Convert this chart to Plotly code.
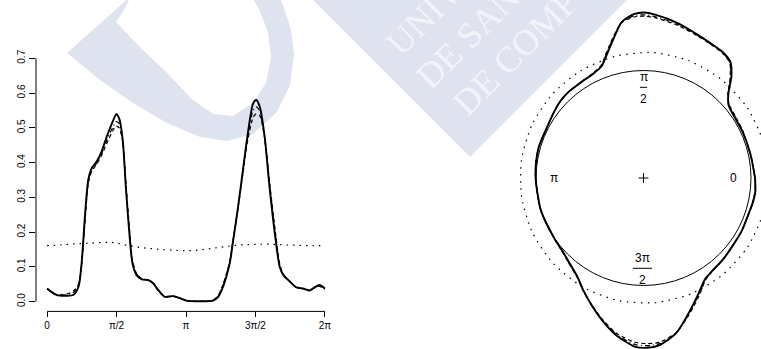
import math
import plotly.graph_objects as go

# ---------------- data ----------------
theta = [0, 0.22, 0.44, 0.59, 0.71, 0.78, 0.86, 0.93, 1.01, 1.12, 1.23, 1.35, 1.50, 1.565, 1.63,
         1.71, 1.78, 1.86, 1.93, 2.02, 2.14, 2.29, 2.40, 2.51, 2.66, 2.85, 3.00, 3.15, 3.45, 3.75,
         3.87, 3.98, 4.13, 4.21, 4.32, 4.43, 4.54, 4.66, 4.73, 4.81, 4.92, 5.03, 5.15, 5.26, 5.34,
         5.49, 5.64, 5.79, 5.94, 6.05, 6.16, 6.2832]
solid = [0.038, 0.019, 0.017, 0.019, 0.043, 0.110, 0.254, 0.350, 0.384, 0.403, 0.431, 0.475, 0.523, 0.539, 0.527,
         0.465, 0.331, 0.197, 0.110, 0.077, 0.064, 0.062, 0.053, 0.034, 0.014, 0.016, 0.010, 0.003, 0.001, 0.003,
         0.014, 0.043, 0.110, 0.177, 0.273, 0.379, 0.484, 0.570, 0.580, 0.561, 0.475, 0.331, 0.197, 0.101, 0.077,
         0.058, 0.041, 0.038, 0.032, 0.041, 0.048, 0.038]
dashed = [0.036, 0.020, 0.022, 0.030, 0.050, 0.105, 0.235, 0.340, 0.375, 0.395, 0.420, 0.455, 0.495, 0.505, 0.500,
          0.460, 0.345, 0.215, 0.120, 0.082, 0.066, 0.062, 0.052, 0.032, 0.015, 0.016, 0.010, 0.003, 0.001, 0.004,
          0.018, 0.050, 0.115, 0.180, 0.270, 0.370, 0.465, 0.530, 0.540, 0.535, 0.470, 0.345, 0.215, 0.110, 0.080,
          0.058, 0.041, 0.037, 0.034, 0.040, 0.044, 0.036]
dotdash = [0.037, 0.018, 0.020, 0.026, 0.047, 0.108, 0.245, 0.345, 0.380, 0.398, 0.425, 0.465, 0.505, 0.518, 0.512,
           0.462, 0.338, 0.205, 0.115, 0.080, 0.065, 0.062, 0.052, 0.033, 0.014, 0.016, 0.010, 0.003, 0.001, 0.003,
           0.016, 0.047, 0.112, 0.178, 0.272, 0.375, 0.475, 0.550, 0.560, 0.548, 0.472, 0.338, 0.205, 0.105, 0.078,
           0.058, 0.041, 0.037, 0.033, 0.040, 0.046, 0.037]
theta_dot = [0, 0.3, 0.6, 0.9, 1.2, 1.5, 1.8, 2.1, 2.4, 2.7, 3.0, 3.3, 3.6, 3.9, 4.2, 4.5, 4.8, 5.1,
             5.4, 5.7, 6.0, 6.2832]
dotted = [0.161, 0.163, 0.166, 0.168, 0.170, 0.170, 0.162, 0.156, 0.152, 0.149, 0.147, 0.147, 0.151, 0.156,
          0.161, 0.164, 0.165, 0.165, 0.163, 0.162, 0.161, 0.161]

x_tickvals = [0, math.pi / 2, math.pi, 3 * math.pi / 2, 2 * math.pi]
x_ticktext = ["0", "π/2", "π", "3π/2", "2π"]
y_tickvals = [0, 0.1, 0.2, 0.3, 0.4, 0.5, 0.6, 0.7]
y_ticktext = ["0.0", "0.1", "0.2", "0.3", "0.4", "0.5", "0.6", "0.7"]
wm_lines = ["UNIVERSIDADE", "DE SANTIAGO", "DE COMPOSTELA"]

# ---------------- layout constants ----------------
W, H = 761, 349
FONT = "Liberation Sans, Arial, Helvetica, sans-serif"
WM = "#dfe2ef"

# left panel pixel box
L_x0, L_x1 = 36, 336
L_ytop, L_ybot = 48.5, 311.4
# polar panel
CX, CY, SC = 643.5, 178.0, 107.5
P_x0 = 380.5

def px(x):
    return x / W

def py(y):
    return 1 - y / H

fig = go.Figure()

series = [
    (solid, 1.9, "solid"),
    (dashed, 1.2, "4px,3px"),
    (dotdash, 1.2, "1px,3px,5px,3px"),
]
for vals, w, d in series:
    fig.add_trace(go.Scatter(x=theta, y=vals, mode="lines", xaxis="x", yaxis="y",
                             line=dict(color="black", width=w, dash=d, shape="spline", smoothing=0.7),
                             hoverinfo="skip", showlegend=False))
fig.add_trace(go.Scatter(x=theta_dot, y=dotted, mode="lines", xaxis="x", yaxis="y",
                         line=dict(color="black", width=1.2, dash="1.5px,5px", shape="spline"),
                         hoverinfo="skip", showlegend=False))

# polar panel: radius = 1 + density
for vals, th, w, d in [(dotted, theta_dot, 1.2, "1.5px,5.5px"), (dotdash, theta, 1.2, "1px,3px,5px,3px"),
                       (dashed, theta, 1.2, "4px,3px"), (solid, theta, 1.9, "solid")]:
    xs = [(1 + v) * math.cos(t) for t, v in zip(th, vals)]
    ys = [(1 + v) * math.sin(t) for t, v in zip(th, vals)]
    fig.add_trace(go.Scatter(x=xs, y=ys, mode="lines", xaxis="x2", yaxis="y2",
                             line=dict(color="black", width=w, dash=d, shape="spline", smoothing=0.7),
                             hoverinfo="skip", showlegend=False))
fig.add_trace(go.Scatter(x=[0], y=[0], mode="markers", xaxis="x2", yaxis="y2",
                         marker=dict(symbol="cross-thin", size=7, line=dict(width=1, color="black")),
                         hoverinfo="skip", showlegend=False))

# ---------------- axes ----------------
xr0 = -0.04 * 2 * math.pi
xr1 = 2 * math.pi * 1.04
fig.update_layout(
    width=W, height=H, margin=dict(l=0, r=0, t=0, b=0, pad=0),
    paper_bgcolor="white", plot_bgcolor="rgba(0,0,0,0)",
    template="none",
    font=dict(family=FONT, size=10, color="black"),
    xaxis=dict(domain=[px(L_x0), px(L_x1)], range=[xr0, xr1], tickvals=x_tickvals, ticktext=x_ticktext,
               ticks="outside", ticklen=5, tickwidth=1, tickcolor="black", showgrid=False, zeroline=False,
               showline=False, automargin=False, anchor="y", tickfont=dict(size=10)),
    yaxis=dict(domain=[py(L_ybot), py(L_ytop)], range=[-0.028, 0.728], tickvals=y_tickvals,
               ticktext=y_ticktext, ticks="outside", ticklen=6, tickwidth=1, tickcolor="black",
               tickangle=-90, showgrid=False, zeroline=False, showline=False, automargin=False,
               anchor="x", tickfont=dict(size=10)),
    xaxis2=dict(domain=[px(P_x0), 1], range=[(P_x0 - CX) / SC, (W - CX) / SC], visible=False,
                anchor="y2"),
    yaxis2=dict(domain=[0, 1], range=[(CY - H) / SC, CY / SC], visible=False, anchor="x2"),
)

shapes = []
# axis lines (R style)
shapes.append(dict(type="line", xref="x", yref="paper", x0=0, x1=2 * math.pi, y0=py(L_ybot), y1=py(L_ybot),
                   line=dict(color="black", width=1)))
shapes.append(dict(type="line", xref="paper", yref="y", x0=px(L_x0), x1=px(L_x0), y0=0, y1=0.7,
                   line=dict(color="black", width=1)))
# unit circle
shapes.append(dict(type="circle", xref="x2", yref="y2", x0=-1, x1=1, y0=-1, y1=1,
                   line=dict(color="black", width=1)))

# watermark (background decoration)
def path(pts):
    return "M " + " L ".join(f"{px(x):.5f},{py(y):.5f}" for x, y in pts) + " Z"

u_outline = [(67, 53), (100, 80), (133, 103), (167, 123), (200, 137), (227, 141), (253, 134), (277, 112),
             (290, 85), (294, 55), (291, 30), (283, 5), (278, -6),
             (250, -6), (259, 9), (268, 32), (271, 57), (266, 83), (253, 103), (233, 116), (213, 114),
             (193, 100), (167, 73), (140, 47), (116, 22), (124, 10), (131, -4)]
diamond = [(290, -23), (470, 157), (652, -25)]
shapes.append(dict(type="path", xref="paper", yref="paper", path=path(u_outline), layer="below",
                   fillcolor=WM, line=dict(width=0)))
shapes.append(dict(type="path", xref="paper", yref="paper", path=path(diamond), layer="below",
                   fillcolor=WM, line=dict(width=0)))

# fraction bars
shapes.append(dict(type="line", xref="x2", yref="y2", x0=-3.6 / SC, x1=3.6 / SC,
                   y0=(CY - 87.3) / SC, y1=(CY - 87.3) / SC, line=dict(color="black", width=1)))
shapes.append(dict(type="line", xref="x2", yref="y2", x0=-9.5 / SC - 0.01, x1=9.5 / SC - 0.01,
                   y0=(CY - 268.3) / SC, y1=(CY - 268.3) / SC, line=dict(color="black", width=1)))
fig.update_layout(shapes=shapes)

ann = []
def lab(text, xpix, ypix, size=12):
    ann.append(dict(text=text, xref="x2", yref="y2", x=(xpix - CX) / SC, y=(CY - ypix) / SC,
                    showarrow=False, xanchor="center", yanchor="middle",
                    font=dict(family=FONT, size=size, color="black")))
lab("0", 733.5, 177.5)
lab("π", 553.5, 177.5)
lab("π", 643.5, 76.5)
lab("2", 643.5, 98.5)
lab("3π", 642.5, 258)
lab("2", 642.5, 280)

# watermark text
SQ = math.sqrt(2)
along_start = 240
em = [7.62, 6.72, 8.65]
perp = [312, 357, 402]
for txt, e, p in zip(wm_lines, em, perp):
    a = along_start + e * 36 / 2
    xc = (a + p) / SQ
    yc = (p - a) / SQ
    ann.append(dict(text=txt, xref="paper", yref="paper", x=px(xc), y=py(yc), showarrow=False,
                    xanchor="center", yanchor="middle", textangle=-45,
                    font=dict(family="Liberation Serif, Times New Roman, serif", size=36, color="#f3f4f9")))
fig.update_layout(annotations=ann)

fig.write_html("out.html")
